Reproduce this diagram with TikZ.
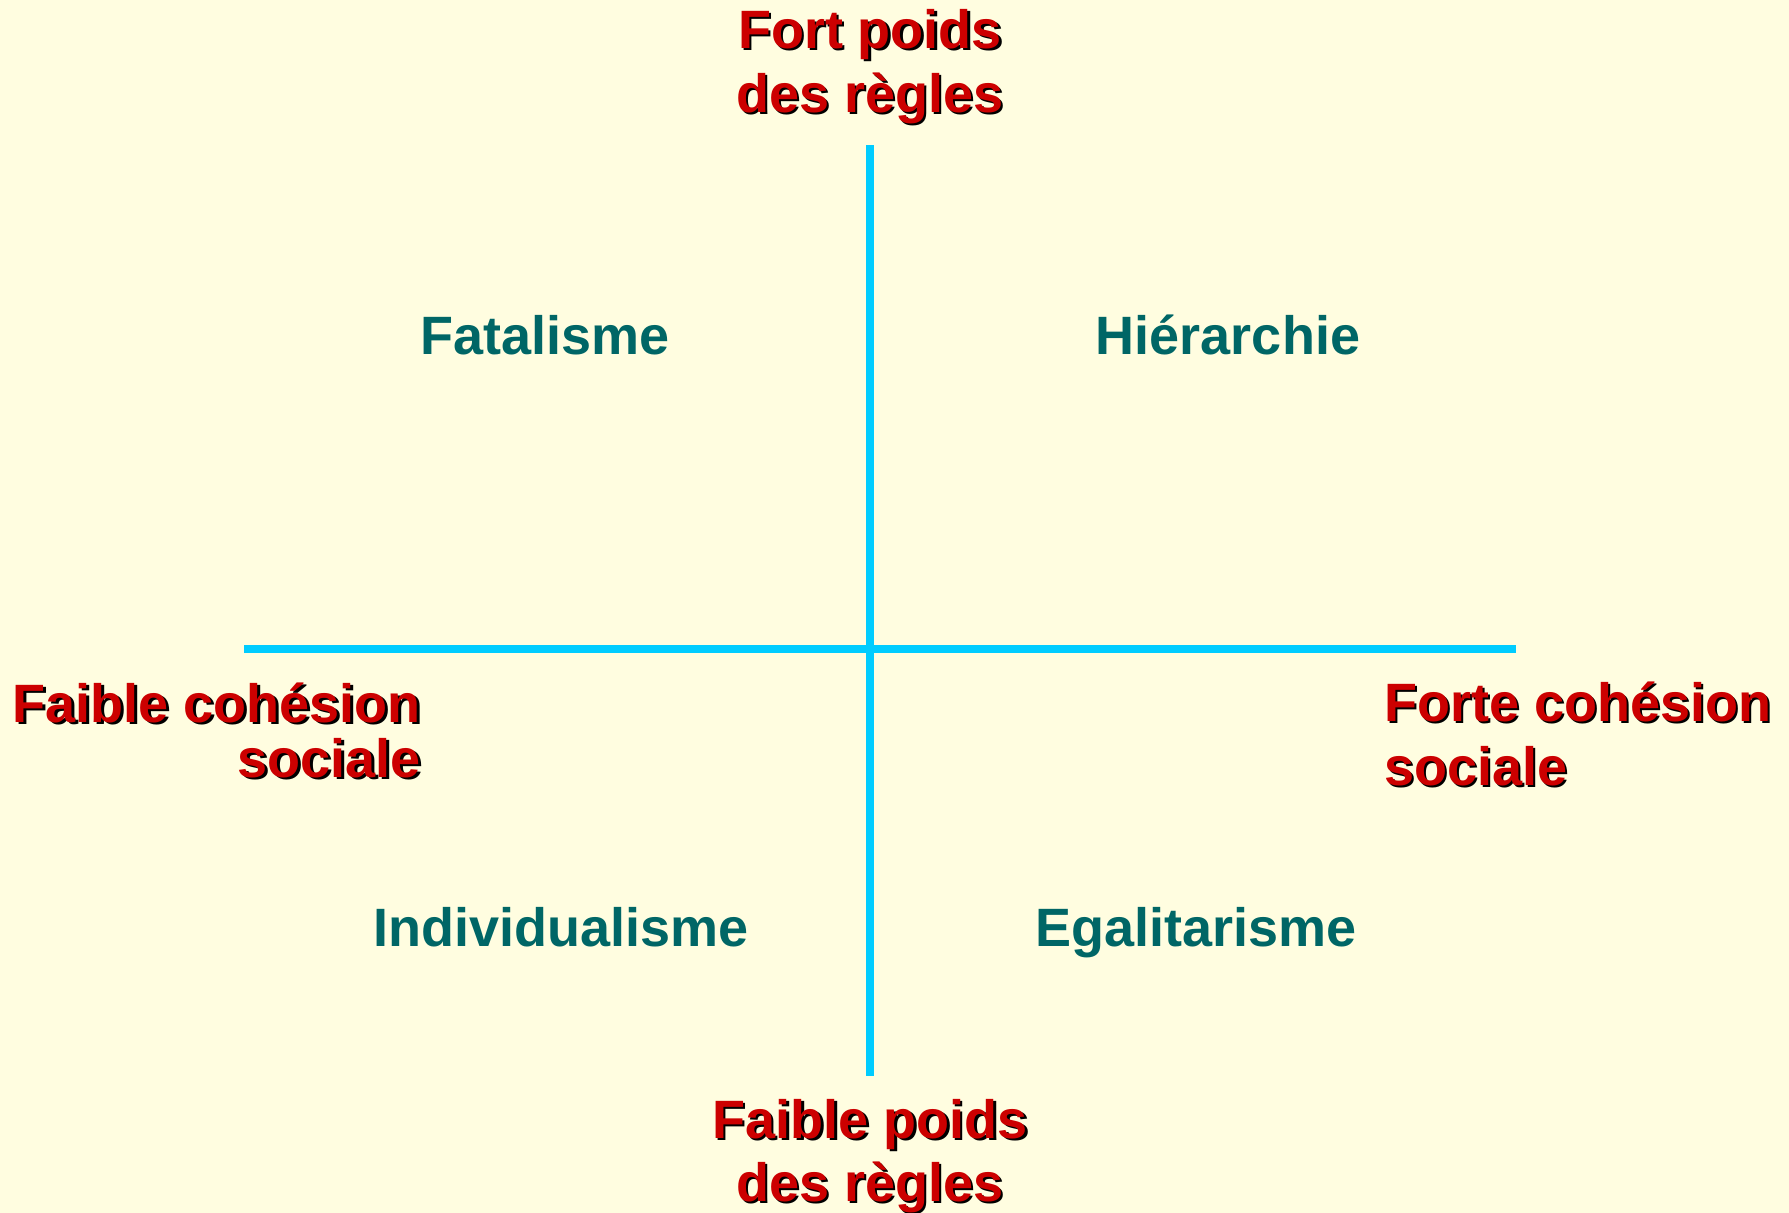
\documentclass[tikz,border=0pt]{standalone}
\usepackage{fontspec}
\setmainfont{Liberation Sans}
\definecolor{bgyellow}{HTML}{FFFDE0}
\definecolor{lblred}{HTML}{CC0000}
\definecolor{lblteal}{HTML}{006666}
\definecolor{axiscyan}{HTML}{00CCFF}
\newcommand{\shd}[1]{\leavevmode\rlap{\kern2.5pt\raisebox{-2.5pt}{\textcolor{black}{#1}}}#1}
\tikzset{
  redlbl/.style={text=lblred, font=\bfseries\fontsize{54}{64}\selectfont, inner sep=0pt, anchor=base},
  teallbl/.style={text=lblteal, font=\bfseries\fontsize{54}{64}\selectfont, inner sep=0pt, anchor=base},
  axisline/.style={draw=axiscyan, line width=8pt}
}
\begin{document}
\begin{tikzpicture}[x=1pt,y=-1pt]
\fill[bgyellow] (0,0) rectangle (1789,1213);
\useasboundingbox (0,0) rectangle (1789,1213);
% axes
\coordinate (vtop) at (870,145);
\coordinate (vbot) at (870,1076);
\coordinate (hleft) at (244,649);
\coordinate (hright) at (1516,649);
\draw[axisline] (vtop) -- (vbot);
\draw[axisline] (hleft) -- (hright);
% red axis labels
\node[redlbl] (top1) at (870,48) {\shd{Fort poids}};
\node[redlbl] (top2) at (870,112) {\shd{des règles}};
\node[redlbl] (bot1) at (870,1138) {\shd{Faible poids}};
\node[redlbl] (bot2) at (870,1201) {\shd{des règles}};
\node[redlbl, anchor=base east] (left1) at (421,722) {\shd{Faible cohésion}};
\node[redlbl, anchor=base east] (left2) at (421,777) {\shd{sociale}};
\node[redlbl, anchor=base west] (right1) at (1384,721) {\shd{Forte cohésion}};
\node[redlbl, anchor=base west] (right2) at (1384,785) {\shd{sociale}};
% quadrant labels
\node[teallbl] (fat) at (545,354) {Fatalisme};
\node[teallbl] (hie) at (1228,354) {Hiérarchie};
\node[teallbl] (ind) at (561,946) {Individualisme};
\node[teallbl] (ega) at (1196,946) {Egalitarisme};
\end{tikzpicture}
\end{document}
